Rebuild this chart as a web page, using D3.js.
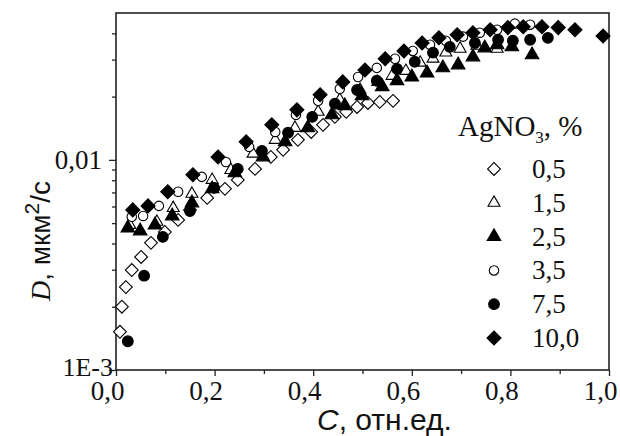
<!DOCTYPE html>
<html>
<head>
<meta charset="utf-8">
<script src="https://cdn.jsdelivr.net/npm/d3@7"></script>
<style>
    body { margin: 0; background: #fff; }
    svg { display: block; }
</style>
</head>
<body>
<div id="chart"></div>
<script>
// series labels (AgNO3, %)
let seriesNames = ['0,5', '1,5', '2,5', '3,5', '7,5', '10,0'];

// C, отн.ед. and D, мкм2/с for each series
let c05 = [0.008,0.012,0.020,0.032,0.051,0.071,0.099,0.126,0.150,0.185,0.221,0.247,0.282,0.314,0.339,0.369,0.396,0.420,0.444,0.467,0.489,0.511,0.535,0.562];
let d05 = [0.00152,0.0020,0.00248,0.00299,0.00345,0.00403,0.00454,0.00518,0.00578,0.00659,0.00728,0.00803,0.00906,0.01033,0.01116,0.01245,0.01358,0.01468,0.01603,0.01694,0.01786,0.01866,0.01888,0.0191];

let c15 = [0.028,0.083,0.116,0.154,0.195,0.233,0.278,0.323,0.363,0.410,0.454,0.495,0.531,0.560,0.588,0.617,0.643,0.669,0.698,0.732,0.773];
let d15 = [0.0049,0.00507,0.0059,0.00689,0.00803,0.00895,0.0107,0.01245,0.0142,0.01694,0.0193,0.0215,0.0235,0.0251,0.0265,0.029,0.0303,0.0324,0.0338,0.0349,0.0338];

let c25 = [0.024,0.049,0.079,0.114,0.154,0.195,0.241,0.298,0.343,0.389,0.438,0.464,0.499,0.540,0.570,0.600,0.631,0.663,0.694,0.724,0.748,0.773,0.803,0.844];
let d25 = [0.00474,0.00459,0.0049,0.00541,0.00624,0.00728,0.00867,0.01033,0.01219,0.0142,0.01637,0.0181,0.0202,0.0223,0.0238,0.0248,0.0259,0.0274,0.0283,0.0309,0.0341,0.0353,0.0345,0.0316];

let c35 = [0.032,0.055,0.087,0.126,0.174,0.223,0.270,0.323,0.365,0.410,0.454,0.491,0.529,0.566,0.602,0.637,0.669,0.704,0.738,0.773,0.809,0.840];
let d35 = [0.00536,0.00541,0.00604,0.00705,0.0083,0.00977,0.01153,0.01358,0.01637,0.0191,0.0218,0.0248,0.0274,0.0303,0.0330,0.0353,0.0369,0.0386,0.0403,0.0416,0.0445,0.0440];

let c75 = [0.024,0.057,0.095,0.150,0.199,0.247,0.296,0.349,0.398,0.444,0.489,0.529,0.570,0.606,0.643,0.677,0.728,0.775,0.805,0.840,0.876];
let d75 = [0.00137,0.00281,0.0043,0.00571,0.00736,0.00906,0.01104,0.01346,0.01603,0.0185,0.0215,0.0238,0.0271,0.0293,0.0324,0.0345,0.0360,0.0373,0.0369,0.0373,0.0381];

let c100 = [0.034,0.065,0.105,0.156,0.207,0.264,0.316,0.367,0.414,0.460,0.505,0.546,0.584,0.621,0.655,0.692,0.724,0.759,0.795,0.826,0.864,0.897,0.931,0.988];
let d100 = [0.00578,0.00604,0.00705,0.00849,0.01033,0.01219,0.01468,0.0173,0.0204,0.0235,0.0268,0.0303,0.0330,0.0360,0.0381,0.0394,0.0403,0.0416,0.0426,0.0430,0.0430,0.0426,0.0416,0.0389];

// tick labels
let xTicks = [0, 0.2, 0.4, 0.6, 0.8, 1.0];
let xMinor = [0.1, 0.3, 0.5, 0.7, 0.9];
let xTickLabels = ['0,0', '0,2', '0,4', '0,6', '0,8', '1,0'];
let yTicks = [0.001, 0.01];
let yTickLabels = ['1E-3', '0,01'];
let yMinor = [0.002,0.003,0.004,0.005,0.006,0.007,0.008,0.009,0.02,0.03,0.04];

let width = 620, height = 436;
let margin = {top: 13, right: 11, bottom: 66, left: 116};

let svg = d3.select('#chart').append('svg')
    .attr('width', width)
    .attr('height', height);

let x = d3.scaleLinear()
    .domain([0, 1])
    .range([margin.left, width - margin.right]);

let y = d3.scaleLog()
    .domain([0.001, 0.05])
    .range([height - margin.bottom, margin.top]);

const serif = "'Liberation Serif', 'Times New Roman', serif";
const sans = "'Liberation Sans', Arial, sans-serif";

// diamond = square turned 45 degrees
const markers = [
    {type: d3.symbolSquare, size: 82, rot: 45, fill: '#fff'},
    {type: d3.symbolTriangle, size: 62, rot: 0, fill: '#fff'},
    {type: d3.symbolTriangle, size: 80, rot: 0, fill: '#000'},
    {type: d3.symbolCircle, size: 70, rot: 0, fill: '#fff'},
    {type: d3.symbolCircle, size: 90, rot: 0, fill: '#000'},
    {type: d3.symbolSquare, size: 98, rot: 45, fill: '#000'}
];

let series = [[c05, d05], [c15, d15], [c25, d25], [c35, d35], [c75, d75], [c100, d100]];

// axes
let xAxis = svg.append('g')
    .attr('transform', `translate(0,${height - margin.bottom})`)
    .call(d3.axisBottom(x).tickValues(xTicks).tickSize(6).tickPadding(6)
        .tickFormat((d, i) => xTickLabels[i]));
svg.append('g')
    .attr('transform', `translate(0,${height - margin.bottom})`)
    .call(d3.axisBottom(x).tickValues(xMinor).tickSize(4).tickFormat(''));

let yAxis = svg.append('g')
    .attr('transform', `translate(${margin.left},0)`)
    .call(d3.axisLeft(y).tickValues(yTicks).tickSize(7).tickPadding(7)
        .tickFormat((d, i) => yTickLabels[i]));
svg.append('g')
    .attr('transform', `translate(${margin.left},0)`)
    .call(d3.axisLeft(y).tickValues(yMinor).tickSize(4).tickFormat(''));

svg.selectAll('.domain').remove();
svg.selectAll('.tick line').attr('stroke', '#222').attr('stroke-width', 1.3);
svg.selectAll('.tick text')
    .attr('fill', '#111')
    .style('font-family', serif)
    .style('font-size', '27px');
// labels sit a little left of their ticks in the original
xAxis.selectAll('.tick text').attr('dy', '0.66em').attr('dx', -9);
yAxis.selectAll('.tick text').filter(d => d === 0.001)
    .attr('x', -3)
    .attr('dy', '0.2em')
    .style('font-size', '26px');

// frame
svg.append('rect')
    .attr('x', x(0))
    .attr('y', y(0.05))
    .attr('width', x(1) - x(0))
    .attr('height', y(0.001) - y(0.05))
    .attr('fill', 'none')
    .attr('stroke', '#222')
    .attr('stroke-width', 1.6);

// points
series.forEach((s, k) => {
    let m = markers[k];
    let pts = s[0].map((c, i) => ({c: c, d: s[1][i]}));
    svg.append('g').selectAll('path')
        .data(pts)
        .enter().append('path')
        .attr('d', d3.symbol().type(m.type).size(m.size))
        .attr('transform', d => `translate(${x(d.c)},${y(d.d)}) rotate(${m.rot})`)
        .attr('fill', m.fill)
        .attr('stroke', '#000')
        .attr('stroke-width', 1.1);
});

// legend
let legend = svg.append('g');
let title = legend.append('text')
    .attr('x', 458)
    .attr('y', 136)
    .style('font-family', serif)
    .style('font-size', '29px')
    .attr('fill', '#111');
title.append('tspan').text('AgNO');
title.append('tspan').attr('dy', 7).style('font-size', '17px').text('3');
title.append('tspan').attr('dy', -7).text(', %');

seriesNames.forEach((name, k) => {
    let m = markers[k];
    let cy = 169 + k * 33.8;
    legend.append('path')
        .attr('d', d3.symbol().type(m.type).size(m.size))
        .attr('transform', `translate(494,${cy}) rotate(${m.rot})`)
        .attr('fill', m.fill)
        .attr('stroke', '#000')
        .attr('stroke-width', 1.1);
    legend.append('text')
        .attr('x', 532)
        .attr('y', cy + 9)
        .style('font-family', serif)
        .style('font-size', '27px')
        .attr('fill', '#111')
        .text(name);
});

// axis titles
let xt = svg.append('text')
    .attr('x', 317)
    .attr('y', 430)
    .style('font-family', sans)
    .style('font-size', '30px')
    .attr('fill', '#111');
xt.append('tspan').style('font-style', 'italic').text('C');
xt.append('tspan').text(', отн.ед.');

let yt = svg.append('text')
    .attr('transform', 'translate(50,241) rotate(-90)')
    .attr('text-anchor', 'middle')
    .style('font-family', sans)
    .style('font-size', '28px')
    .attr('fill', '#111');
yt.append('tspan').style('font-family', serif).style('font-style', 'italic').text('D');
yt.append('tspan').text(', мкм');
yt.append('tspan').attr('dy', -11).style('font-size', '21px').text('2');
yt.append('tspan').attr('dy', 11).text('/с');
</script>
</body>
</html>
